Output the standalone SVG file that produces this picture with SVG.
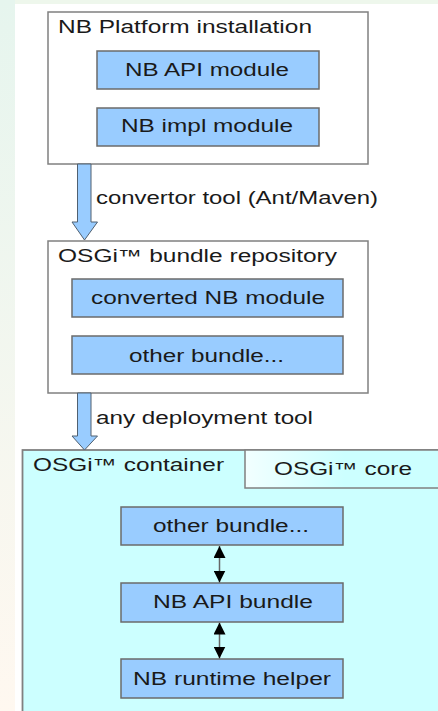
<svg xmlns="http://www.w3.org/2000/svg" width="438" height="711" viewBox="0 0 438 711">
<defs>
<linearGradient id="leftbg" x1="0" y1="0" x2="0" y2="1">
<stop offset="0" stop-color="#e6f5ee"/>
<stop offset="1" stop-color="#fff8f0"/>
</linearGradient>
<linearGradient id="coretab" x1="0" y1="0" x2="1" y2="0">
<stop offset="0" stop-color="#f2ffff"/>
<stop offset="0.5" stop-color="#ccffff"/>
<stop offset="1" stop-color="#ccffff"/>
</linearGradient>
<marker id="ah" viewBox="0 0 12 12" refX="12" refY="6" markerWidth="12" markerHeight="12" markerUnits="userSpaceOnUse" orient="auto-start-reverse">
<path d="M0,0 L12,6 L0,12 Z" fill="#000"/>
</marker>
<style>
.frame{fill:#ffffff;stroke:#808080;stroke-width:1.5}
.mod{fill:#99ccff;stroke:#6b6b6b;stroke-width:1.5}
.t{font-family:"Liberation Sans",Arial,sans-serif;font-size:17.5px;fill:#1a1a1a}
.block{fill:#99ccff;stroke:#506070;stroke-width:1}
.link{stroke:#666;stroke-width:1.5;fill:none}
</style>
</defs>
<rect x="0" y="0" width="438" height="711" fill="#ffffff"/>
<rect x="0" y="0" width="438" height="4" fill="#eef7ec"/>
<rect x="0" y="0" width="15" height="711" fill="url(#leftbg)"/>

<g id="nb-platform">
<rect class="frame" x="48" y="12" width="320" height="152"/>
<text class="t" x="58" y="33" textLength="254" lengthAdjust="spacingAndGlyphs">NB Platform installation</text>
</g>
<g id="nb-api-module">
<rect class="mod" x="97" y="51" width="222" height="38"/>
<text class="t" x="125" y="75.5" textLength="164" lengthAdjust="spacingAndGlyphs">NB API module</text>
</g>
<g id="nb-impl-module">
<rect class="mod" x="97" y="108" width="222" height="38"/>
<text class="t" x="121" y="132" textLength="172" lengthAdjust="spacingAndGlyphs">NB impl module</text>
</g>

<g id="bundle-repository">
<rect class="frame" x="48" y="241" width="320" height="152"/>
<text class="t" x="58" y="262" textLength="279" lengthAdjust="spacingAndGlyphs">OSGi™ bundle repository</text>
</g>
<g id="converted-nb-module">
<rect class="mod" x="72" y="279" width="271" height="38"/>
<text class="t" x="91" y="304" textLength="234" lengthAdjust="spacingAndGlyphs">converted NB module</text>
</g>
<g id="repo-other-bundle">
<rect class="mod" x="72" y="336" width="271" height="38"/>
<text class="t" x="129" y="362" textLength="155" lengthAdjust="spacingAndGlyphs">other bundle...</text>
</g>

<g id="osgi-container">
<rect x="22.5" y="450" width="420" height="270" fill="#ccffff" stroke="#808080" stroke-width="1.8"/>
<text class="t" x="33" y="471" textLength="191" lengthAdjust="spacingAndGlyphs">OSGi™ container</text>
</g>
<g id="osgi-core">
<rect x="245" y="450" width="200" height="38" fill="url(#coretab)" stroke="#808080" stroke-width="1.5"/>
<text class="t" x="274" y="475" textLength="138" lengthAdjust="spacingAndGlyphs">OSGi™ core</text>
</g>
<g id="container-other-bundle">
<rect class="mod" x="121" y="507" width="222" height="38"/>
<text class="t" x="153" y="532" textLength="156" lengthAdjust="spacingAndGlyphs">other bundle...</text>
</g>
<g id="nb-api-bundle">
<rect class="mod" x="121" y="583" width="222" height="39"/>
<text class="t" x="153" y="608" textLength="160" lengthAdjust="spacingAndGlyphs">NB API bundle</text>
</g>
<g id="nb-runtime-helper">
<rect class="mod" x="121" y="659" width="222" height="39"/>
<text class="t" x="133" y="685" textLength="198" lengthAdjust="spacingAndGlyphs">NB runtime helper</text>
</g>

<g id="connectors">
<polygon class="block" points="77.5,164 91,164 91,222 97.5,222 84.5,240 72,222 77.5,222"/>
<text class="t" x="96" y="204" textLength="282" lengthAdjust="spacingAndGlyphs">convertor tool (Ant/Maven)</text>
<polygon class="block" points="77.5,393 91,393 91,436 97.5,436 84.5,450 72,436 77.5,436"/>
<text class="t" x="96" y="424" textLength="217" lengthAdjust="spacingAndGlyphs">any deployment tool</text>
<path class="link" d="M219.5,546 L219.5,582.5" marker-start="url(#ah)" marker-end="url(#ah)"/>
<path class="link" d="M219.5,622.5 L219.5,658.5" marker-start="url(#ah)" marker-end="url(#ah)"/>
</g>
</svg>
